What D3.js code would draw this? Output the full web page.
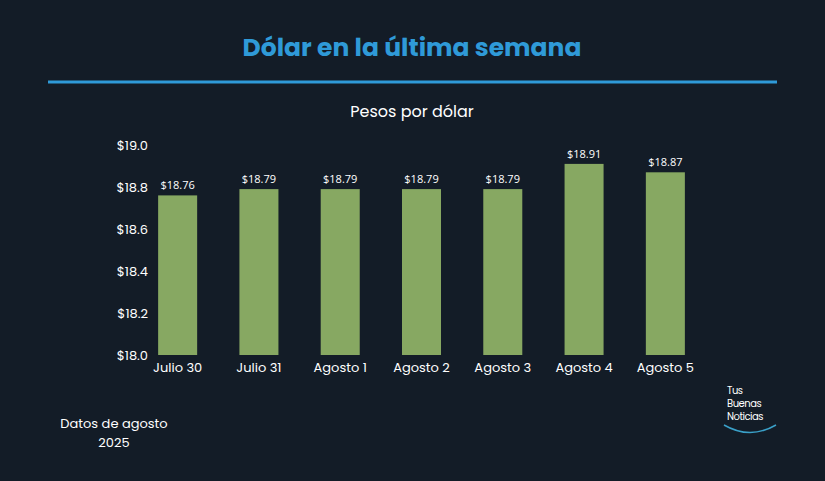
<!DOCTYPE html>
<html><head><meta charset="utf-8">
<script src="https://cdn.jsdelivr.net/npm/d3@7"></script>
<style>body{margin:0;background:#131c27}text{font-family:Poppins,Inter,"Open Sans",sans-serif}</style>
</head><body><svg id="c" width="825" height="481"></svg>
<script>
var categories = ["Julio 30","Julio 31","Agosto 1","Agosto 2","Agosto 3","Agosto 4","Agosto 5"];
var values = [18.76,18.79,18.79,18.79,18.79,18.91,18.87];
var yTicks = [18.0,18.2,18.4,18.6,18.8,19.0];

var svg = d3.select("#c");
svg.append("rect").attr("width",825).attr("height",481).attr("fill","#131c27");
svg.append("text").attr("x",412).attr("y",56).attr("text-anchor","middle")
  .attr("fill","#2f9ad8").attr("font-size",25).attr("font-weight","bold").text("Dólar en la última semana");
svg.append("line").attr("x1",48).attr("x2",777).attr("y1",82).attr("y2",82)
  .attr("stroke","#2f9ad8").attr("stroke-width",3);
svg.append("text").attr("x",412).attr("y",117).attr("text-anchor","middle")
  .attr("fill","#fff").attr("font-size",16).text("Pesos por dólar");

var x = d3.scaleBand().domain(categories).range([137,706]).paddingInner(0.52).paddingOuter(0.26);
var y = d3.scaleLinear().domain([18,19]).range([355,145]);

var ya = svg.append("g").attr("transform","translate(150,0)")
  .call(d3.axisLeft(y).tickValues(yTicks).tickSize(0).tickPadding(2).tickFormat(function(d){return "$"+d.toFixed(1);}));
ya.select(".domain").remove();
ya.selectAll("text").attr("fill","#fff").attr("font-size",13);

svg.selectAll(".bar").data(values).enter().append("rect")
  .attr("x",function(d,i){return x(categories[i]);}).attr("width",x.bandwidth())
  .attr("y",function(d){return y(d);}).attr("height",function(d){return y(18)-y(d);})
  .attr("fill","#87a862");
svg.selectAll(".lbl").data(values).enter().append("text")
  .attr("x",function(d,i){return x(categories[i])+x.bandwidth()/2;})
  .attr("y",function(d){return y(d)-6;}).attr("text-anchor","middle")
  .attr("fill","#fff").attr("font-size",11).style("font-family","'Open Sans',sans-serif").text(function(d){return "$"+d.toFixed(2);});

var xa = svg.append("g").attr("transform","translate(0,355)")
  .call(d3.axisBottom(x).tickSize(0).tickPadding(8));
xa.select(".domain").remove();
xa.selectAll("text").attr("fill","#fff").attr("font-size",13);

svg.append("text").attr("x",114).attr("y",428).attr("text-anchor","middle").attr("fill","#fff").attr("font-size",13).text("Datos de agosto");
svg.append("text").attr("x",114).attr("y",447).attr("text-anchor","middle").attr("fill","#fff").attr("font-size",13).text("2025");

var logo = svg.append("g").attr("fill","#fff").attr("font-size",10);
["Tus","Buenas","Noticias"].forEach(function(t,i){
  logo.append("text").attr("x",727).attr("y",394+i*13).attr("letter-spacing",-0.5).text(t);
});
svg.append("path").attr("d","M724,425 Q750,440 776,425").attr("fill","none")
  .attr("stroke","#3aa0c8").attr("stroke-width",1.5);
</script></body></html>
